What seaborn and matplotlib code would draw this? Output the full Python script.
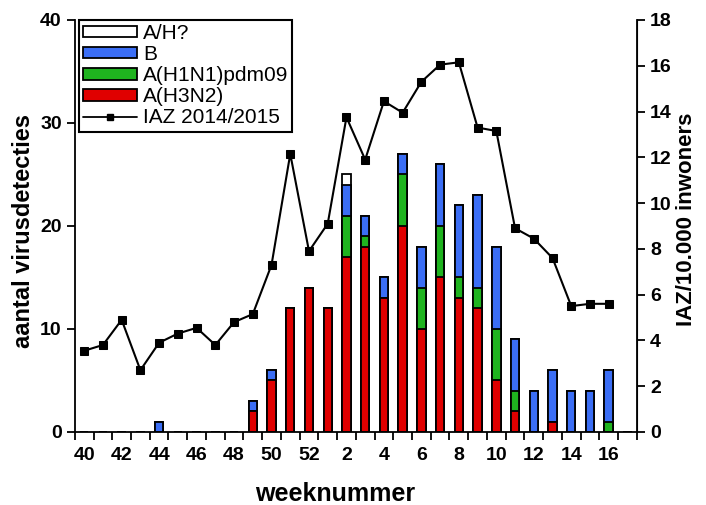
"""
Virusdetecties per week (gestapeld) met IAZ-lijn op rechteras.
"""
import numpy as np
import pandas as pd
import matplotlib
matplotlib.use('Agg')
import matplotlib.pyplot as plt
from matplotlib.patches import Patch
from matplotlib.lines import Line2D
import seaborn as sns

# Weken 40-52 (2014) en 1-17 (2015)
weeks = [str(w) for w in range(40, 53)] + [str(w) for w in range(1, 18)]

h3n2 = [0, 0, 0, 0, 0, 0, 0, 0, 0, 2, 5, 12, 14, 12, 17, 18, 13, 20, 10, 15,
        13, 12, 5, 2, 0, 1, 0, 0, 0, 0]
h1n1 = [0, 0, 0, 0, 0, 0, 0, 0, 0, 0, 0, 0, 0, 0, 4, 1, 0, 5, 4, 5,
        2, 2, 5, 2, 0, 0, 0, 0, 1, 0]
b_vals = [0, 0, 0, 0, 1, 0, 0, 0, 0, 1, 1, 0, 0, 0, 3, 2, 2, 2, 4, 6,
          7, 9, 8, 5, 4, 5, 4, 4, 5, 0]
ah_unk = [0, 0, 0, 0, 0, 0, 0, 0, 0, 0, 0, 0, 0, 0, 1, 0, 0, 0, 0, 0,
          0, 0, 0, 0, 0, 0, 0, 0, 0, 0]

# IAZ per 10.000 inwoners, week 40 t/m 16
iaz = [3.55, 3.8, 4.9, 2.7, 3.9, 4.3, 4.55, 3.8, 4.8, 5.15, 7.3, 12.15, 7.9,
       9.1, 13.75, 11.9, 14.45, 13.95, 15.3, 16.05, 16.15, 13.3, 13.15,
       8.9, 8.45, 7.6, 5.5, 5.6, 5.6]

tick_labels = ['40', '42', '44', '46', '48', '50', '52', '2', '4', '6', '8',
               '10', '12', '14', '16']

colors = {
    'A/H?': 'white',
    'B': '#3b6ef5',
    'A(H1N1)pdm09': '#1fb41f',
    'A(H3N2)': '#e00000',
}

df = pd.DataFrame({
    'week': weeks,
    'A(H3N2)': h3n2,
    'A(H1N1)pdm09': h1n1,
    'B': b_vals,
    'A/H?': ah_unk,
})
# cumulatieve hoogtes, van onder naar boven
df['c_h3n2'] = df['A(H3N2)']
df['c_h1n1'] = df['c_h3n2'] + df['A(H1N1)pdm09']
df['c_b'] = df['c_h1n1'] + df['B']
df['c_ah'] = df['c_b'] + df['A/H?']

sns.set_style('ticks')
plt.rcParams['font.family'] = ['Liberation Sans', 'DejaVu Sans']
plt.rcParams.update({
    'text.color': 'black', 'axes.labelcolor': 'black',
    'xtick.color': 'black', 'ytick.color': 'black',
    'axes.edgecolor': 'black',
})

fig = plt.figure(figsize=(7.06, 5.05), dpi=100)
ax = fig.add_axes([0.106, 0.1446, 0.796, 0.8158])

# Overlappende balken: hoogste eerst
for col, name in [('c_ah', 'A/H?'), ('c_b', 'B'),
                  ('c_h1n1', 'A(H1N1)pdm09'), ('c_h3n2', 'A(H3N2)')]:
    sns.barplot(data=df, x='week', y=col, order=weeks, color=colors[name],
                edgecolor='black', linewidth=1.3, width=0.45, saturation=1,
                ax=ax)

ax.set_xlim(-0.5, len(weeks) - 0.5)
ax.set_ylim(0, 40)
ax.set_yticks([0, 10, 20, 30, 40])
label_pos = [i for i, w in enumerate(weeks) if w in tick_labels]
ax.set_xticks(label_pos)
ax.set_xticklabels(tick_labels)
ax.set_xticks(np.arange(-0.5, len(weeks) + 0.5, 1), minor=True)
ax.tick_params(axis='x', which='major', length=0, pad=11, labelsize=14)
ax.tick_params(axis='x', which='minor', length=6, width=1.3, direction='out')
ax.tick_params(axis='y', length=6, width=1.3, labelsize=14)
for lbl in ax.get_xticklabels() + ax.get_yticklabels():
    lbl.set_fontweight('bold')

ax.set_xlabel('weeknummer', fontsize=18, fontweight='bold')
ax.xaxis.set_label_coords(0.464, -0.122)
ax.set_ylabel('aantal virusdetecties', fontsize=17, fontweight='bold')
ax.yaxis.set_label_coords(-0.071, 0.488)

for side in ['left', 'bottom']:
    ax.spines[side].set_linewidth(1.3)
ax.spines['top'].set_visible(False)

ax2 = ax.twinx()
sns.lineplot(x=np.arange(len(iaz)), y=iaz, color='black', marker='s',
             markersize=6, markeredgecolor='black', linewidth=1.5, ax=ax2)
ax2.set_ylim(0, 18)
ax2.set_yticks(range(0, 19, 2))
ax2.tick_params(axis='y', length=6, width=1.3, labelsize=14)
for lbl in ax2.get_yticklabels():
    lbl.set_fontweight('bold')
ax2.set_ylabel('IAZ/10.000 inwoners', fontsize=16, fontweight='bold')
ax2.yaxis.set_label_coords(1.07, 0.515)
ax2.spines['right'].set_linewidth(1.3)
ax2.spines['top'].set_visible(False)
ax2.spines['left'].set_visible(False)
ax2.spines['bottom'].set_visible(False)

handles = [Patch(facecolor=colors[n], edgecolor='black', linewidth=1.3)
           for n in ['A/H?', 'B', 'A(H1N1)pdm09', 'A(H3N2)']]
handles.append(Line2D([], [], color='black', marker='s', markersize=5,
                      linewidth=1.3))
leg = ax2.legend(handles, ['A/H?', 'B', 'A(H1N1)pdm09', 'A(H3N2)',
                           'IAZ 2014/2015'],
                 loc='upper left', bbox_to_anchor=(0.008, 1.0),
                 fontsize=15, frameon=True, fancybox=False, framealpha=1,
                 edgecolor='black', handlelength=2.55, handleheight=0.45,
                 labelspacing=0.1, borderpad=0.2, handletextpad=0.3,
                 borderaxespad=0)
leg.get_frame().set_linewidth(1.5)

fig.savefig('out.png', dpi=100)
